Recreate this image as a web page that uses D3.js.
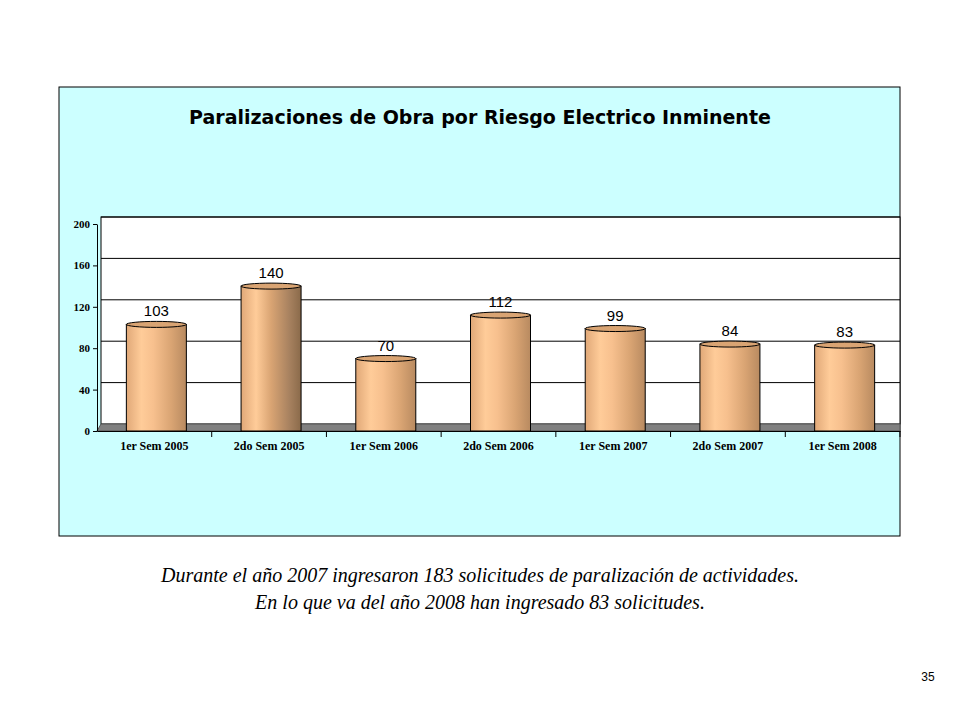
<!DOCTYPE html>
<html><head><meta charset="utf-8">
<script src="https://cdn.jsdelivr.net/npm/d3@7"></script>
<style>body{margin:0;background:#fff;}</style>
</head><body>
<svg id="c" width="960" height="720"></svg>
<script>
const categories=["1er Sem 2005","2do Sem 2005","1er Sem 2006","2do Sem 2006","1er Sem 2007","2do Sem 2007","1er Sem 2008"];
const values=[103,140,70,112,99,84,83];
const ticks=[0,40,80,120,160,200];
const title="Paralizaciones de Obra por Riesgo Electrico Inminente";
const caption=["Durante el año 2007 ingresaron 183 solicitudes de paralización de actividades.","En lo que va del año 2008 han ingresado 83 solicitudes."];

const svg=d3.select("#c");
svg.append("rect").attr("x",59).attr("y",87).attr("width",841).attr("height",449).attr("fill","#ccffff").attr("stroke","#000").attr("stroke-width",1);
svg.append("text").attr("x",480).attr("y",124).attr("text-anchor","middle").attr("font-family","Verdana, DejaVu Sans, sans-serif").attr("font-weight","bold").attr("font-size",19).text(title);

const y=d3.scaleLinear().domain([0,200]).range([431,224]);
const x=d3.scaleBand().domain(categories).range([97,900]);
const dx=4,dy=7;
// back wall
svg.append("rect").attr("x",97+dx).attr("y",y(200)-dy).attr("width",900-97-dx).attr("height",y(0)-y(200)).attr("fill","#fff").attr("stroke","#000");
ticks.forEach(t=>{ if(t>0) svg.append("line").attr("x1",97+dx).attr("x2",900).attr("y1",y(t)-dy).attr("y2",y(t)-dy).attr("stroke","#000");});
// floor
svg.append("path").attr("d",`M97,${y(0)} L${97+dx},${y(0)-dy} L900,${y(0)-dy} L900,${y(0)} Z`).attr("fill","#808080").attr("stroke","#555");
// axes
const ya=svg.append("g").attr("transform","translate(97,0)").call(d3.axisLeft(y).tickValues(ticks).tickSize(4).tickSizeOuter(0));
ya.selectAll("text").attr("font-family","Times New Roman, Liberation Serif, serif").attr("font-weight","bold").attr("font-size",11).attr("fill","#000");
const xa=svg.append("g").attr("transform",`translate(0,${y(0)})`).call(d3.axisBottom(x).tickSize(0).tickSizeOuter(0));
xa.selectAll("text").attr("dy","1.3em").attr("font-family","Times New Roman, Liberation Serif, serif").attr("font-weight","bold").attr("font-size",12).attr("fill","#000");
x.domain().slice(1).forEach(c=>svg.append("line").attr("x1",x(c)).attr("x2",x(c)).attr("y1",y(0)).attr("y2",y(0)+6).attr("stroke","#000"));
svg.append("line").attr("x1",900).attr("x2",900).attr("y1",y(0)).attr("y2",y(0)+6).attr("stroke","#000");

const defs=svg.append("defs");
function grad(id,stops){const g=defs.append("linearGradient").attr("id",id);stops.forEach(s=>g.append("stop").attr("offset",s[0]).attr("stop-color",s[1]));}
grad("cyl",[[0,"#e0a878"],[0.25,"#ffcc99"],[0.45,"#f7c08e"],[0.75,"#d9a473"],[1,"#b88a60"]]);
grad("cyl2",[[0,"#e0a878"],[0.25,"#ffcc99"],[0.5,"#d9a473"],[0.8,"#a88260"],[1,"#8a6a4a"]]);
const bw=60, ry=3;
values.forEach((v,i)=>{
  const cx=x(categories[i])+x.bandwidth()/2+2, top=y(v);
  const g=svg.append("g");
  g.append("rect").attr("x",cx-bw/2).attr("y",top).attr("width",bw).attr("height",y(0)-top).attr("fill",i==1?"url(#cyl2)":"url(#cyl)").attr("stroke","#000");
  g.append("ellipse").attr("cx",cx).attr("cy",top).attr("rx",bw/2).attr("ry",ry).attr("fill","#d9a473").attr("stroke","#000");
  g.append("text").attr("x",cx).attr("y",top-8).attr("text-anchor","middle").attr("font-family","Arial, Liberation Sans, sans-serif").attr("font-size",15).text(v);
});
caption.forEach((c,i)=>svg.append("text").attr("x",480).attr("y",582+i*27).attr("text-anchor","middle").attr("font-family","Times New Roman, Liberation Serif, serif").attr("font-style","italic").attr("font-size",20).text(c));
svg.append("text").attr("x",928).attr("y",681).attr("text-anchor","middle").attr("font-family","Arial, Liberation Sans, sans-serif").attr("font-size",12).text("35");
</script>
</body></html>
